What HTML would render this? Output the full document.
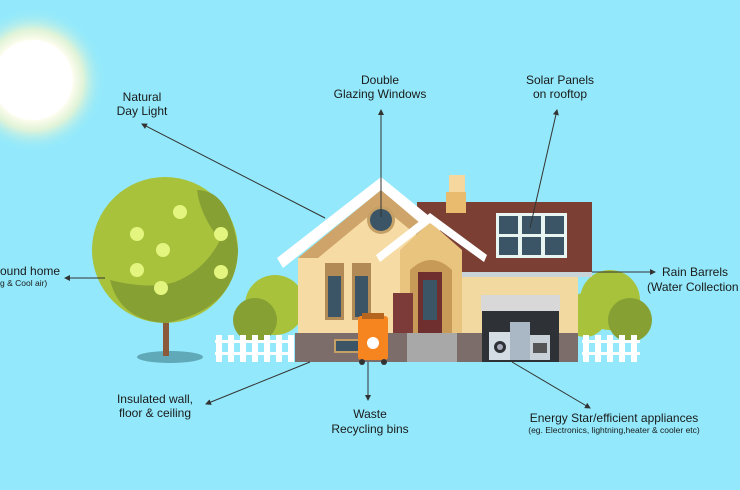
<!DOCTYPE html><html><head><style>body{margin:0}svg{display:block}text{font-family:"Liberation Sans",sans-serif;fill:#1a1a1a}</style></head><body>
<svg width="740" height="490" viewBox="0 0 740 490" xmlns="http://www.w3.org/2000/svg">
<defs><radialGradient id="sg"><stop offset="0.55" stop-color="#fffdf0"/><stop offset="0.7" stop-color="#f3f6d0" stop-opacity="0.8"/><stop offset="1" stop-color="#92e8fb" stop-opacity="0"/></radialGradient>
<marker id="a" markerWidth="6" markerHeight="6" refX="5" refY="3" orient="auto"><path d="M0,0L6,3L0,6z" fill="#333"/></marker></defs>
<rect width="740" height="490" fill="#93e9fb"/>
<circle cx="33" cy="80" r="72" fill="url(#sg)"/><circle cx="33" cy="80" r="40" fill="#fff"/>
<!-- tree -->
<ellipse cx="170" cy="357" rx="33" ry="6" fill="#5fa9b8"/>
<rect x="163" y="318" width="6" height="38" fill="#8a5a3a"/>
<circle cx="165" cy="250" r="73" fill="#a8c23c"/>
<path d="M197,190 Q230,190 238,250 Q236,310 165,323 Q120,320 110,280 Q150,290 175,282 Q205,270 220,240 Q200,215 197,190z" fill="#86a034"/>
<g fill="#e3f57f"><circle cx="180" cy="212" r="7"/><circle cx="137" cy="234" r="7"/><circle cx="163" cy="250" r="7"/><circle cx="137" cy="270" r="7"/><circle cx="161" cy="288" r="7"/><circle cx="221" cy="234" r="7"/><circle cx="221" cy="272" r="7"/></g>
<!-- bushes -->
<circle cx="275" cy="305" r="30" fill="#a8c23c"/><circle cx="255" cy="320" r="22" fill="#86a034"/>
<circle cx="610" cy="300" r="30" fill="#a8c23c"/><circle cx="630" cy="320" r="22" fill="#86a034"/><circle cx="585" cy="315" r="22" fill="#a8c23c"/>
<!-- brown roof -->
<rect x="417" y="202" width="175" height="71" fill="#7c3f34"/>
<rect x="449" y="175" width="16" height="17" fill="#f6d89e"/><rect x="446" y="192" width="20" height="21" fill="#e8bb6e"/>
<rect x="496" y="213" width="71" height="45" fill="#e8f5f0"/>
<g fill="#3b5566"><rect x="499" y="216" width="19" height="18"/><rect x="522" y="216" width="19" height="18"/><rect x="545" y="216" width="19" height="18"/><rect x="499" y="237" width="19" height="18"/><rect x="522" y="237" width="19" height="18"/><rect x="545" y="237" width="19" height="18"/></g>
<rect x="462" y="272" width="130" height="5" fill="#c8d4d8"/>
<!-- right lower wing -->
<rect x="462" y="277" width="116" height="56" fill="#f2d9a0"/>
<rect x="458" y="333" width="120" height="29" fill="#7d6d6a"/>
<rect x="481" y="295" width="79" height="16" fill="#d8d8d8"/><rect x="482" y="311" width="77" height="51" fill="#2e3236"/>
<rect x="489" y="332" width="22" height="28" fill="#d4dde4"/><circle cx="500" cy="347" r="6" fill="#2e3236"/><circle cx="500" cy="347" r="3" fill="#aab"/>
<rect x="510" y="322" width="20" height="38" fill="#aab8c6"/><rect x="530" y="335" width="20" height="25" fill="#c8d0d8"/><rect x="533" y="343" width="14" height="10" fill="#555"/>
<!-- main house -->
<polygon points="298,333 298,258 381,190 462,255 462,333" fill="#f6dca4"/>
<polygon points="381,190 298,258 318,258 381,206 430,246 440,238" fill="#cfa46a"/>
<polygon points="381,177 277,258 283,268 381,190 440,240 440,225" fill="#fff"/>
<circle cx="381" cy="220" r="14" fill="#c5a066"/><circle cx="381" cy="220" r="11" fill="#3b5566"/>
<rect x="325" y="263" width="19" height="57" fill="#b28a55"/><rect x="328" y="276" width="13" height="41" fill="#3b5566"/>
<rect x="352" y="263" width="19" height="57" fill="#b28a55"/><rect x="355" y="276" width="13" height="41" fill="#3b5566"/>
<!-- porch -->
<polygon points="430,222 400,250 400,333 462,333 462,250" fill="#e9c47e"/>
<path d="M410,333V270Q431,250 452,270V333z" fill="#c89a58"/>
<rect x="418" y="272" width="24" height="61" fill="#6e2f2e"/><rect x="423" y="280" width="14" height="40" fill="#3b5566"/>
<rect x="393" y="293" width="20" height="45" fill="#7c3a38"/>
<polygon points="430,213 376,255 380,262 430,223 484,262 487,255" fill="#fff"/>
<!-- base -->
<rect x="295" y="333" width="163" height="29" fill="#7d6d6a"/>
<rect x="407" y="333" width="50" height="29" fill="#a8a8a8"/><rect x="335" y="340" width="25" height="12" fill="#3b5566" stroke="#c5a066" stroke-width="2"/>
<!-- bin -->
<rect x="358" y="316" width="30" height="44" rx="3" fill="#f7851f"/><rect x="362" y="313" width="22" height="6" fill="#b5651d"/><circle cx="373" cy="343" r="6" fill="#fff"/><circle cx="362" cy="362" r="3" fill="#333"/><circle cx="384" cy="362" r="3" fill="#333"/>
<!-- fences -->
<g fill="#fff"><rect x="215" y="340" width="78" height="3"/><rect x="215" y="352" width="78" height="3"/><rect x="582" y="340" width="58" height="3"/><rect x="582" y="352" width="58" height="3"/></g>
<g fill="#fff"><rect x="216" y="335" width="6" height="27"/><rect x="228" y="335" width="6" height="27"/><rect x="240" y="335" width="6" height="27"/><rect x="252" y="335" width="6" height="27"/><rect x="264" y="335" width="6" height="27"/><rect x="276" y="335" width="6" height="27"/><rect x="288" y="335" width="6" height="27"/>
<rect x="583" y="335" width="6" height="27"/><rect x="595" y="335" width="6" height="27"/><rect x="607" y="335" width="6" height="27"/><rect x="619" y="335" width="6" height="27"/><rect x="631" y="335" width="6" height="27"/></g>
<!-- connectors -->
<g stroke="#333" stroke-width="1" fill="none" marker-end="url(#a)">
<line x1="325" y1="218" x2="142" y2="124"/><line x1="381" y1="217" x2="381" y2="110"/><line x1="530" y1="228" x2="557" y2="110"/>
<line x1="592" y1="272" x2="655" y2="272"/><line x1="105" y1="278" x2="65" y2="278"/>
<line x1="310" y1="362" x2="206" y2="404"/><line x1="368" y1="362" x2="368" y2="400"/><line x1="512" y1="362" x2="590" y2="408"/></g>
<g font-size="12" text-anchor="middle">
<text x="142" y="101">Natural</text><text x="142" y="115">Day Light</text>
<text x="380" y="84">Double</text><text x="380" y="98">Glazing Windows</text>
<text x="560" y="84">Solar Panels</text><text x="560" y="98">on rooftop</text>
<text x="155" y="403">Insulated wall,</text><text x="155" y="417">floor &amp; ceiling</text>
<text x="370" y="418">Waste</text><text x="370" y="433">Recycling bins</text>
<text x="614" y="422">Energy Star/efficient appliances</text>
<text x="614" y="433" font-size="8.5">(eg. Electronics, lightning,heater &amp; cooler etc)</text></g>
<g font-size="12"><text x="662" y="276">Rain Barrels</text><text x="647" y="291">(Water Collection</text>
<text x="0" y="275">ound home</text><text x="0" y="286" font-size="8.5">g &amp; Cool air)</text></g>
</svg></body></html>
